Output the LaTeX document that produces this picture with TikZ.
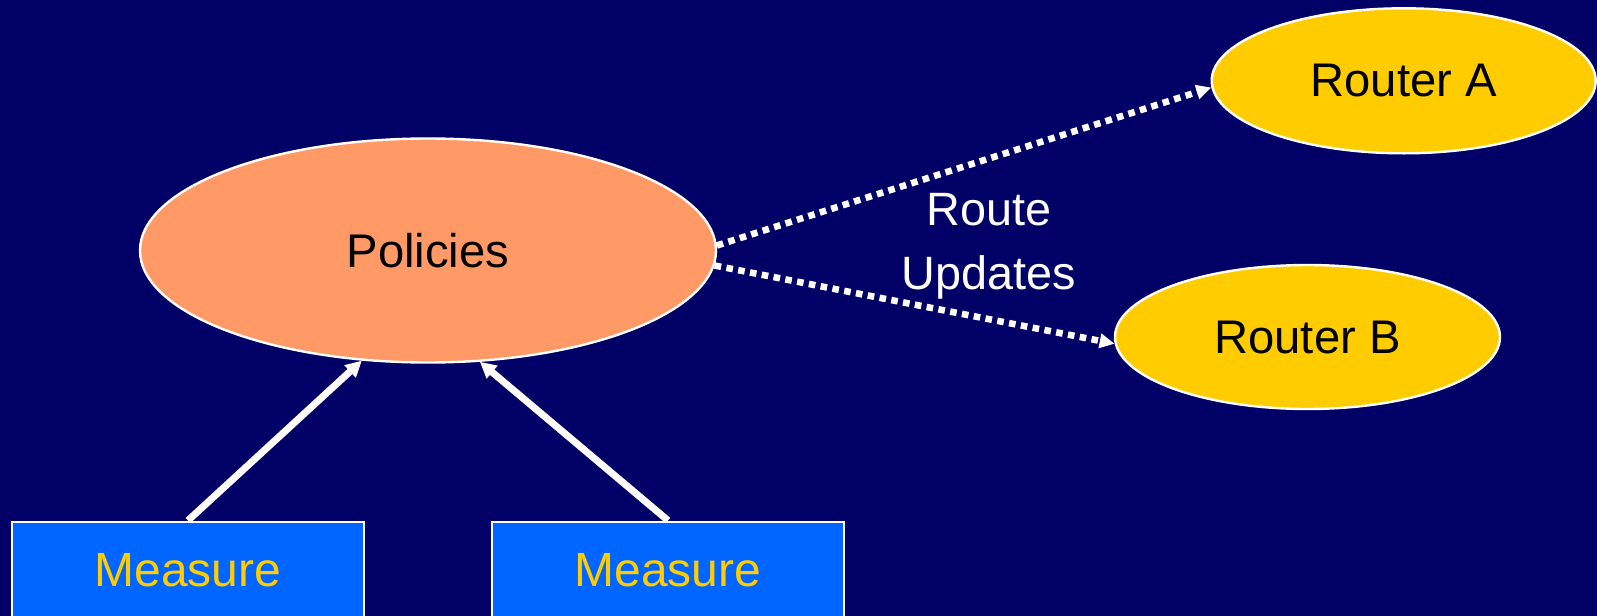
\documentclass[tikz,border=0pt]{standalone}
\usepackage{fontspec}
\setmainfont{Liberation Sans}
\usetikzlibrary{shapes.geometric,arrows.meta}
\definecolor{bgnavy}{HTML}{000066}
\definecolor{salmon}{HTML}{FF9966}
\definecolor{gold}{HTML}{FFCC00}
\definecolor{mblue}{HTML}{0066FF}
\begin{document}
\begin{tikzpicture}[x=0.5pt,y=-0.5pt,
  oval/.style={ellipse, draw=white, line width=1.2pt, inner sep=0pt, font=\fontsize{23.6}{28}\selectfont, text=black},
  mbox/.style={rectangle, draw=white, line width=1pt, fill=mblue, text=gold, minimum width=176pt, minimum height=48.5pt, inner sep=0pt, font=\fontsize{24}{28}\selectfont},
  upd/.style={draw=white, line width=3.3pt, dash pattern=on 3.3pt off 2.7pt, -{Triangle[length=7.5pt,width=7pt]}},
  feed/.style={draw=white, line width=3.5pt, -{Triangle[length=8pt,width=8pt]}},
  lbl/.style={font=\fontsize{23.4}{32}\selectfont, text=white, align=center}
]
\fill[bgnavy] (0,0) rectangle (1597,616);
\useasboundingbox (0,0) rectangle (1597,616);
\clip (0,0) rectangle (1597,616);

\node[oval, fill=salmon, minimum width=288pt, minimum height=112pt] (pol) at (428,250.5) {Policies};
\node[oval, fill=gold, minimum width=192pt, minimum height=72.5pt] (ra) at (1403.7,80.8) {Router A};
\node[oval, fill=gold, minimum width=192.5pt, minimum height=72pt] (rb) at (1307.5,337) {Router B};
\node[mbox] (m1) at (188,570) {Measure};
\node[mbox] (m2) at (668,570) {Measure};
\node[lbl] (upl) at (989,246) {Route\\Updates};

\draw[upd] (pol.1) -- (ra.182.5);
\draw[upd] (pol.-3.5) -- (rb.182);
\draw[feed] (m1.north) -- (pol.-121);
\draw[feed] (m2.north) -- (pol.-65.5);
\end{tikzpicture}
\end{document}
